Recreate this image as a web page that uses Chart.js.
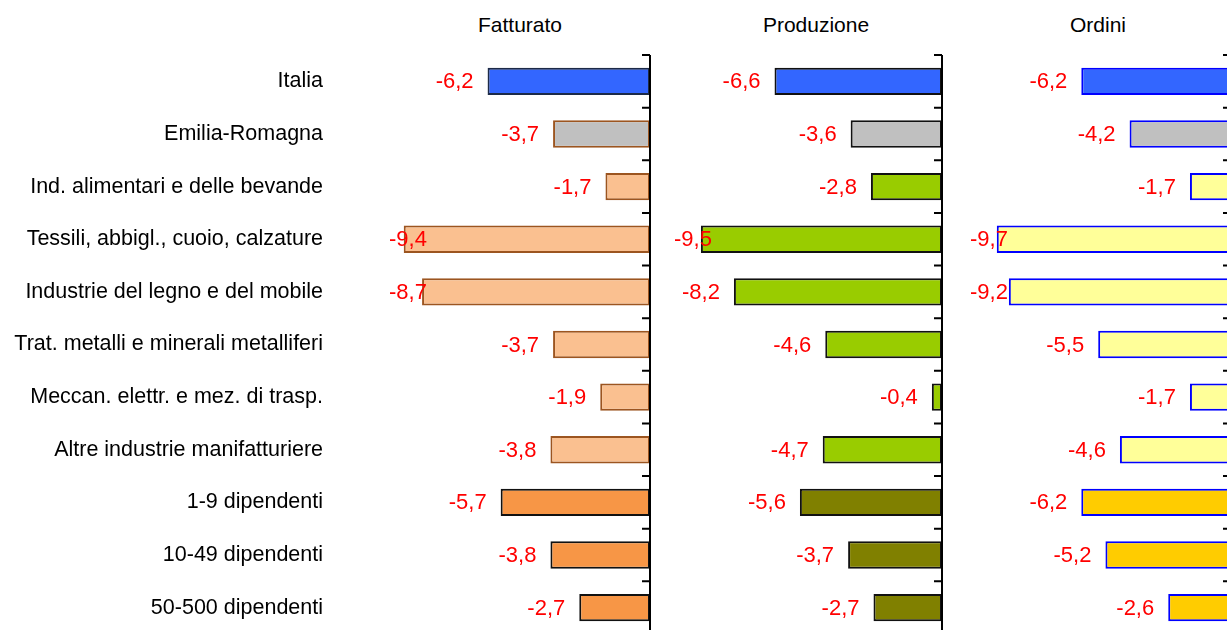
<!DOCTYPE html>
<html>
<head>
<meta charset="utf-8">
<script src="https://cdn.jsdelivr.net/npm/chart.js@4.4.0/dist/chart.umd.min.js"></script>
<style>
html, body { margin: 0; padding: 0; width: 1227px; height: 630px; overflow: hidden; background: #fff; }
body { position: relative; font-family: "Liberation Sans", Arial, sans-serif; }
.box { position: absolute; top: 53px; height: 581px; }
.ttl { position: absolute; top: 13px; font-size: 21px; line-height: 24px; transform: translateX(-50%); white-space: nowrap; color: #000; }
</style>
</head>
<body>
<div class="ttl" style="left:520px">Fatturato</div>
<div class="ttl" style="left:816px">Produzione</div>
<div class="ttl" style="left:1098px">Ordini</div>
<div class="box" style="left:0;width:654px"><canvas id="c1"></canvas></div>
<div class="box" style="left:673px;width:273px"><canvas id="c2"></canvas></div>
<div class="box" style="left:969px;width:266px"><canvas id="c3"></canvas></div>
<script>
var categorie = ["Italia", "Emilia-Romagna", "Ind. alimentari e delle bevande", "Tessili, abbigl., cuoio, calzature",
    "Industrie del legno e del mobile", "Trat. metalli e minerali metalliferi", "Meccan. elettr. e mez. di trasp.",
    "Altre industrie manifatturiere", "1-9 dipendenti", "10-49 dipendenti", "50-500 dipendenti"];
var fatturato = [-6.2, -3.7, -1.7, -9.4, -8.7, -3.7, -1.9, -3.8, -5.7, -3.8, -2.7];
var produzione = [-6.6, -3.6, -2.8, -9.5, -8.2, -4.6, -0.4, -4.7, -5.6, -3.7, -2.7];
var ordini = [-6.2, -4.2, -1.7, -9.7, -9.2, -5.5, -1.7, -4.6, -6.2, -5.2, -2.6];
// 0 = Italia, 1 = regione, 2 = settori, 3 = classi dimensionali
var gruppo = [0, 1, 2, 2, 2, 2, 2, 2, 3, 3, 3];

Chart.defaults.font.family = "'Liberation Sans', Arial, sans-serif";
Chart.defaults.font.size = 22;

function colori(list) {
    return gruppo.map(function (g) { return list[g]; });
}

function etichetta(v) {
    return v.toFixed(1).replace(".", ",");
}

// asse verticale sullo zero con tacche tra le categorie + etichette dei valori
var asseZero = {
    id: "asseZero",
    afterDatasetsDraw: function (chart) {
        var ctx = chart.ctx, xs = chart.scales.x, ys = chart.scales.y;
        var x0 = xs.getPixelForValue(0);
        var step = ys.getPixelForValue(1) - ys.getPixelForValue(0);
        var top = ys.getPixelForValue(0) - step / 2;
        ctx.save();
        ctx.strokeStyle = "#000";
        ctx.lineWidth = 2;
        ctx.beginPath();
        ctx.moveTo(x0, top);
        ctx.lineTo(x0, top + step * categorie.length);
        for (var k = 0; k <= categorie.length; k++) {
            ctx.moveTo(x0 - 8, top + k * step);
            ctx.lineTo(x0, top + k * step);
        }
        ctx.stroke();

        // nomi delle categorie solo nel primo pannello
        if (chart.options.conNomi) {
            ctx.font = "21.5px 'Liberation Sans', Arial, sans-serif";
            ctx.fillStyle = "#000";
            ctx.textAlign = "right";
            ctx.textBaseline = "middle";
            categorie.forEach(function (c, i) {
                ctx.fillText(c, 323, ys.getPixelForValue(i));
            });
        }

        var meta = chart.getDatasetMeta(0);
        var dati = chart.data.datasets[0].data;
        ctx.font = "22px 'Liberation Sans', Arial, sans-serif";
        ctx.fillStyle = "#FF0000";
        ctx.textAlign = "left";
        ctx.textBaseline = "middle";
        meta.data.forEach(function (el, i) {
            var t = etichetta(dati[i]);
            var w = ctx.measureText(t).width;
            var lx = Math.max(el.x - 14 - w, chart.chartArea.left + 1);
            ctx.fillText(t, lx, el.y + 1);
        });
        ctx.restore();
    }
};

function grafico(id, valori, xMin, fill, border, conNomi) {
    return new Chart(document.getElementById(id), {
        type: "bar",
        data: {
            labels: categorie,
            datasets: [{
                data: valori,
                backgroundColor: colori(fill),
                borderColor: colori(border),
                borderWidth: 2,
                borderSkipped: false,
                categoryPercentage: 1,
                barPercentage: 0.52
            }]
        },
        options: {
            conNomi: conNomi,
            indexAxis: "y",
            responsive: true,
            maintainAspectRatio: false,
            animation: false,
            layout: { padding: { top: 2, right: 4, bottom: 0, left: conNomi ? 388 : 0 } },
            plugins: { legend: { display: false }, tooltip: { enabled: false } },
            scales: {
                x: { display: false, min: xMin, max: 0 },
                y: { display: false }
            }
        },
        plugins: [asseZero]
    });
}

grafico("c1", fatturato, -10,
    ["#3366FF", "#C0C0C0", "#FAC090", "#F79646"],
    ["#1C2A48", "#9C5520", "#9C5520", "#111111"], true);
grafico("c2", produzione, -10.6,
    ["#3366FF", "#C0C0C0", "#99CC00", "#808000"],
    ["#111111", "#111111", "#111111", "#111111"], false);
grafico("c3", ordini, -10.85,
    ["#3366FF", "#C0C0C0", "#FFFF99", "#FFCC00"],
    ["#0000FF", "#0000FF", "#0000FF", "#0000FF"], false);
</script>
</body>
</html>
